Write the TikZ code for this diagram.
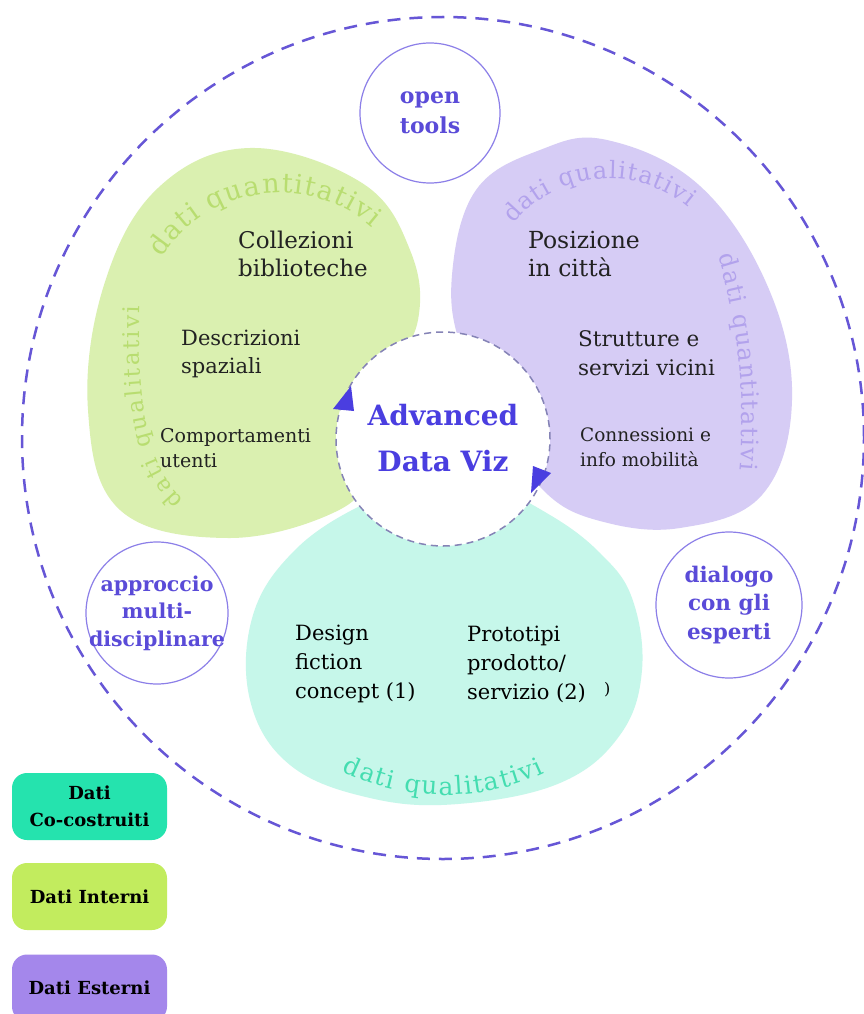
\documentclass[tikz,border=0pt]{standalone}
\usepackage{fontspec}
\setmainfont{DejaVu Serif}
\usetikzlibrary{decorations.text}
\definecolor{greenfill}{HTML}{DAF0B0}
\definecolor{purplefill}{HTML}{D6CCF5}
\definecolor{tealfill}{HTML}{C6F7EA}
\definecolor{greenlab}{HTML}{B8DD70}
\definecolor{purplelab}{HTML}{B2A2EC}
\definecolor{teallab}{HTML}{44DDB0}
\definecolor{bluetext}{HTML}{4A3EE0}
\definecolor{circtext}{HTML}{5A4BD8}
\definecolor{circline}{HTML}{8C7FE8}
\definecolor{dashline}{HTML}{6656D6}
\definecolor{cdash}{HTML}{8583B6}
\definecolor{legteal}{HTML}{25E3AE}
\definecolor{leggreen}{HTML}{C2EC5E}
\definecolor{legpurple}{HTML}{A487EB}
\definecolor{inkc}{HTML}{222222}
\newcommand\myfs[2]{\fontsize{#1}{#2}\selectfont}
\begin{document}
\begin{tikzpicture}[x=1pt,y=1pt,
  txt/.style={inner sep=0pt, align=left, anchor=west, text=inkc},
  smallc/.style={circle, draw=circline, line width=1.2pt, fill=white, inner sep=0pt},
  ctext/.style={inner sep=0pt, align=center, text=circtext},
  legbox/.style={rounded corners=15pt, minimum width=155pt, minimum height=67pt, inner sep=0pt, align=center, font=\bfseries\myfs{18}{27}, text=black},
  curvlab/.style={decorate, decoration={text along path, text align=fit to path}}
]
\useasboundingbox (0,0) rectangle (864,-1014);
\fill[white] (0,0) rectangle (864,-1014);

% outer dashed circle
\draw[dashline, line width=2.5pt, dash pattern=on 13pt off 9pt] (443,-438) circle (421);

% blobs
\fill[greenfill] plot[smooth cycle, tension=0.65] coordinates {(250,-148) (362,-183) (410,-250) (418,-320) (385,-390) (370,-470) (335,-512) (228,-538) (120,-510) (88,-410) (104,-285) (158,-188)};
\fill[purplefill] plot[smooth cycle, tension=0.65] coordinates {(607,-140) (700,-186) (768,-287) (792,-400) (762,-495) (680,-528) (600,-521) (545,-492) (505,-430) (462,-350) (452,-275) (476,-190) (540,-150)};
\fill[tealfill] plot[smooth cycle, tension=0.65] coordinates {(362,-505) (295,-550) (253,-615) (250,-700) (290,-765) (370,-798) (458,-804) (560,-783) (620,-735) (642,-670) (632,-598) (600,-553) (550,-515) (490,-488) (420,-488)};

% center circle
\node[circle, minimum size=214pt, inner sep=0pt, fill=white, draw=cdash, line width=1.5pt, dash pattern=on 7pt off 5pt] (center) at (443,-439) {};
\node[inner sep=0pt, align=center, text=bluetext, font=\bfseries\myfs{28}{46}] (adv) at (443,-438) {Advanced\\Data Viz};
\fill[bluetext] (351,-386) -- (333,-409) -- (354,-411) -- cycle;
\fill[bluetext] (531,-493) -- (533,-466) -- (551,-473) -- cycle;

% curved labels
\path[curvlab, decoration={text={|\myfs{27}{27}\color{greenlab}|dati quantitativi}}] ([shift={(147:141)}]280,-334) arc[start angle=147, end angle=49, radius=141];
\path[curvlab, decoration={text={|\myfs{23}{23}\color{greenlab}|dati qualitativi}}] (184,-500) .. controls (145,-462) and (137,-400) .. (140,-306);
\path[curvlab, decoration={text={|\myfs{24}{24}\color{purplelab}|dati qualitativi}}] ([shift={(141:123)}]609,-301.5) arc[start angle=141, end angle=50, radius=123];
\path[curvlab, decoration={text={|\myfs{24}{24}\color{purplelab}|dati quantitativi}}] (718,-256) .. controls (738,-320) and (746,-400) .. (740,-470);
\path[curvlab, decoration={text={|\myfs{25}{25}\color{teallab}|dati qualitativi}}] ([shift={(244:235)}]445,-560) arc[start angle=244, end angle=295, radius=235];

% blob texts
\node[txt, font=\myfs{23}{28}] (coll) at (238,-254) {Collezioni\\biblioteche};
\node[txt, font=\myfs{21}{28}] (descr) at (181,-354) {Descrizioni\\spaziali};
\node[txt, font=\myfs{19}{25}] (comp) at (160,-448) {Comportamenti\\utenti};
\node[txt, font=\myfs{23.5}{28}] (pos) at (528,-254) {Posizione\\in città};
\node[txt, font=\myfs{21.5}{29}] (strut) at (578,-353) {Strutture e\\servizi vicini};
\node[txt, font=\myfs{18.5}{25}] (conn) at (580,-447) {Connessioni e\\info mobilità};
\node[txt, font=\myfs{21}{29}, text=black] (design) at (295,-664) {Design\\fiction\\concept (1)};
\node[txt, font=\myfs{21}{29}, text=black] (proto) at (467,-664) {Prototipi\\prodotto/\\servizio (2)};
\node[txt, font=\myfs{16}{20}, text=black] (paren) at (604,-690) {)};

% small circles
\node[smallc, minimum size=140pt] (opencirc) at (430,-113) {};
\node[ctext, font=\bfseries\myfs{22}{30}] (opentxt) at (opencirc) {open\\tools};
\node[smallc, minimum size=142pt] (appcirc) at (157,-613) {};
\node[ctext, font=\bfseries\myfs{20.5}{27.5}] (apptxt) at (appcirc) {approccio\\multi-\\disciplinare};
\node[smallc, minimum size=146pt] (dialcirc) at (729,-605) {};
\node[ctext, font=\bfseries\myfs{21.5}{28.5}] (dialtxt) at (dialcirc) {dialogo\\con gli\\esperti};

% legend
\node[legbox, fill=legteal] (legco) at (89.5,-806.5) {Dati\\Co-costruiti};
\node[legbox, fill=leggreen] (legin) at (89.5,-896.5) {Dati Interni};
\node[legbox, fill=legpurple] (leges) at (89.5,-988) {Dati Esterni};
\end{tikzpicture}
\end{document}
